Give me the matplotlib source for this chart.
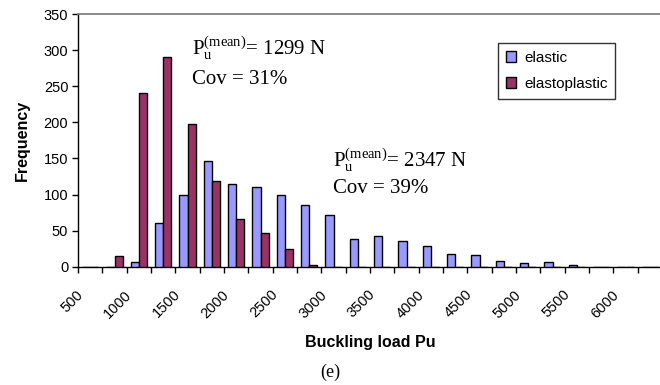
import numpy as np
import matplotlib
matplotlib.use("Agg")
import matplotlib.pyplot as plt
from matplotlib.patches import Patch
from matplotlib.transforms import ScaledTranslation

# histogram bins (upper limit of each bin, N)
bins = [500, 750, 1000, 1250, 1500, 1750, 2000, 2250, 2500, 2750, 3000, 3250,
        3500, 3750, 4000, 4250, 4500, 4750, 5000, 5250, 5500, 5750, 6000, 6250]
elastic = [0, 0, 6, 60, 99, 146, 115, 111, 99, 86, 71, 38,
           42, 36, 28, 17, 16, 8, 5, 6, 2, 0, 0, 0]
elastoplastic = [0, 15, 240, 290, 197, 119, 66, 47, 25, 2, 0, 0,
                 0, 0, 0, 0, 0, 0, 0, 0, 0, 0, 0, 0]
series_names = ["elastic", "elastoplastic"]
yticks = [0, 50, 100, 150, 200, 250, 300, 350]

plt.rcParams['font.family'] = ['Liberation Sans', 'DejaVu Sans']
plt.rcParams['mathtext.fontset'] = 'custom'
plt.rcParams['mathtext.rm'] = 'Liberation Serif'
plt.rcParams['mathtext.it'] = 'Liberation Serif:italic'

c_el = '#9999FF'
c_ep = '#993366'

fig = plt.figure(figsize=(6.6, 3.85), dpi=100)
ax = fig.add_axes([78 / 660, 118.3 / 385, 584 / 660, 252.7 / 385])

x = np.arange(len(bins))
w = 1 / 3
ax.bar(x - w / 2, elastic, width=w, color=c_el, edgecolor='black', linewidth=1.0, zorder=3)
ax.bar(x + w / 2, elastoplastic, width=w, color=c_ep, edgecolor='black', linewidth=1.0, zorder=3)

ax.set_xlim(-0.5, len(bins) - 0.5)
ax.set_ylim(0, 350)
ax.set_yticks(yticks)
ax.tick_params(axis='y', direction='out', length=4, width=1, labelsize=10.5, pad=3)

# tick marks on category boundaries, labels on every other category
ax.set_xticks(np.arange(len(bins) + 1) - 0.5)
ax.set_xticklabels([])
ax.tick_params(axis='x', which='major', direction='out', length=4, width=1)
ax.set_xticks(x[::2], minor=True)
ax.set_xticklabels([str(b) for b in bins[::2]], minor=True, rotation=45,
                   ha='right', va='top', rotation_mode='anchor', fontsize=10.5)
ax.tick_params(axis='x', which='minor', length=0, pad=15)
shift = ScaledTranslation(-14 / 100, 0, fig.dpi_scale_trans)
for lab in ax.get_xticklabels(minor=True):
    lab.set_transform(lab.get_transform() + shift)

for s in ['left', 'bottom']:
    ax.spines[s].set_color('black')
    ax.spines[s].set_linewidth(1.0)
ax.spines['right'].set_visible(False)
ax.spines['top'].set_color('#808080')
ax.spines['top'].set_linewidth(1.3)

ax.set_ylabel("Frequency", fontsize=11.5, fontweight='bold', labelpad=10)
ax.set_xlabel("Buckling load Pu", fontsize=11.5, fontweight='bold', labelpad=10)

serif = ['Liberation Serif', 'DejaVu Serif']
ax.text(4.19, 293, r'$\mathrm{P}_\mathrm{u}^{\mathrm{(mean)}}$= 1299 N', fontsize=15,
        family=serif, va='baseline')
ax.text(4.19, 253, 'Cov = 31%', fontsize=15, family=serif, va='baseline')
ax.text(9.98, 138, r'$\mathrm{P}_\mathrm{u}^{\mathrm{(mean)}}$= 2347 N', fontsize=15,
        family=serif, va='baseline')
ax.text(9.98, 102, 'Cov = 39%', fontsize=15, family=serif, va='baseline')

handles = [Patch(facecolor=c_el, edgecolor='black', linewidth=1.0),
           Patch(facecolor=c_ep, edgecolor='black', linewidth=1.0)]
leg = fig.legend(handles, series_names, loc='upper left',
                 bbox_to_anchor=(498 / 660, 1 - 43 / 385), fontsize=11,
                 frameon=True, fancybox=False, handlelength=0.7, handleheight=0.7,
                 handletextpad=0.5, borderpad=0.5, labelspacing=0.8, borderaxespad=0)
leg.get_frame().set_edgecolor('black')
leg.get_frame().set_linewidth(1.0)

fig.text(330 / 660, 1 - 372 / 385, '(e)', fontsize=13, family=serif,
         ha='center', va='center')

fig.savefig("out.png", dpi=100)
